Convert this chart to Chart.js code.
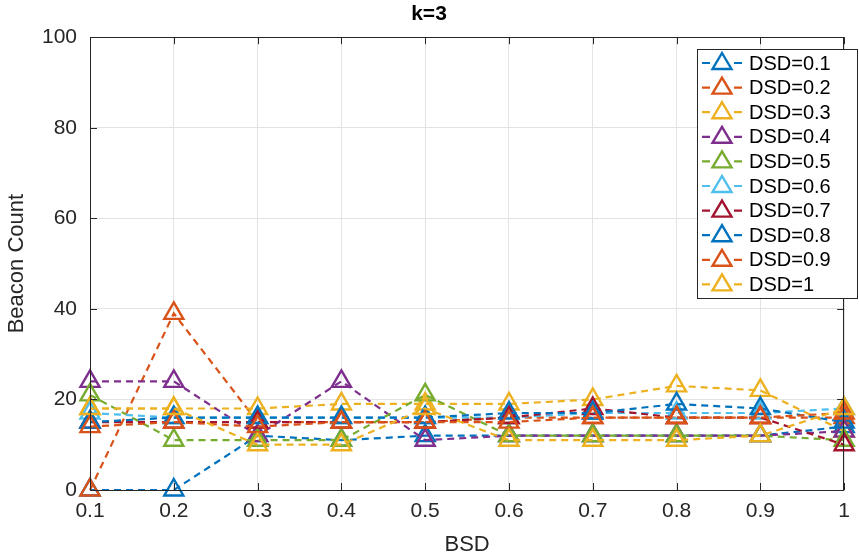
<!DOCTYPE html>
<html>
<head>
<meta charset="utf-8">
<script src="https://cdn.jsdelivr.net/npm/chart.js@4"></script>
<style>
  html, body { margin: 0; padding: 0; background: #fff; }
  #wrap { width: 859px; height: 558px; }
</style>
</head>
<body>
<div id="wrap"><canvas id="chart" width="859" height="558"></canvas></div>
<script>
// valores (k=3)
const bsd = [0.1, 0.2, 0.3, 0.4, 0.5, 0.6, 0.7, 0.8, 0.9, 1];
const dsdLabels = ['DSD=0.1', 'DSD=0.2', 'DSD=0.3', 'DSD=0.4', 'DSD=0.5',
                   'DSD=0.6', 'DSD=0.7', 'DSD=0.8', 'DSD=0.9', 'DSD=1'];
const dsd01 = [0, 0, 12, 11, 12, 12, 12, 12, 12, 14];
const dsd02 = [0, 39, 15, 15, 15, 16, 16, 16, 16, 16];
const dsd03 = [18, 18, 18, 19, 19, 19, 20, 23, 22, 13];
const dsd04 = [24, 24, 12, 24, 11, 12, 12, 12, 12, 13];
const dsd05 = [21, 11, 11, 11, 21, 12, 12, 12, 12, 11];
const dsd06 = [17, 16, 16, 16, 16, 16, 17, 17, 17, 18];
const dsd07 = [15, 15, 15, 15, 15, 16, 18, 16, 16, 10];
const dsd08 = [15, 16, 16, 16, 16, 17, 17, 19, 18, 15];
const dsd09 = [14, 15, 14, 15, 15, 15, 16, 16, 16, 17];
const dsd10 = [18, 18, 10, 10, 18, 11, 11, 11, 12, 18];
const seriesValues = [dsd01, dsd02, dsd03, dsd04, dsd05, dsd06, dsd07, dsd08, dsd09, dsd10];
const yTicks = [0, 20, 40, 60, 80, 100];

const cores = ['#0072BD', '#D95319', '#EDB120', '#7E2F8E', '#77AC30',
               '#4DBEEE', '#A2142F', '#0072BD', '#D95319', '#EDB120'];
const TXT = '#262626';
const FONT = "'Liberation Sans', Arial, sans-serif";

const datasets = seriesValues.map((vals, i) => ({
    label: dsdLabels[i],
    data: vals.map((v, j) => ({ x: bsd[j], y: v })),
    order: -i, // a última série fica por cima, como no MATLAB
    borderColor: cores[i],
    backgroundColor: 'rgba(0,0,0,0)',
    borderWidth: 2.2,
    borderDash: [7, 5],
    pointStyle: 'triangle',
    pointRadius: 11,
    pointBorderWidth: 2.4,
    pointBorderColor: cores[i],
    pointBackgroundColor: 'rgba(0,0,0,0)',
    tension: 0,
    clip: false
}));

// caixa do eixo + marcas de tick para dentro (estilo MATLAB)
const boxPlugin = {
    id: 'box',
    afterDatasetsDraw(chart) {
        const { ctx, chartArea: a, scales } = chart;
        ctx.save();
        ctx.strokeStyle = TXT;
        ctx.lineWidth = 1;
        ctx.beginPath();
        bsd.forEach(v => {
            const px = Math.round(scales.x.getPixelForValue(v)) + 0.5;
            ctx.moveTo(px, a.bottom); ctx.lineTo(px, a.bottom - 7);
            ctx.moveTo(px, a.top); ctx.lineTo(px, a.top + 7);
        });
        yTicks.forEach(v => {
            const py = Math.round(scales.y.getPixelForValue(v)) + 0.5;
            ctx.moveTo(a.left, py); ctx.lineTo(a.left + 7, py);
            ctx.moveTo(a.right, py); ctx.lineTo(a.right - 7, py);
        });
        ctx.stroke();
        ctx.strokeRect(Math.round(a.left) + 0.5, Math.round(a.top) + 0.5,
                       Math.round(a.right - a.left) - 1, Math.round(a.bottom - a.top));
        ctx.restore();
    }
};

// legenda tipo MATLAB: traço - triângulo - traço
const legendPlugin = {
    id: 'matlabLegend',
    afterDraw(chart) {
        const ctx = chart.ctx;
        const x0 = 697, y0 = 49, w = 160, h = 249;
        const rowH = 24.6;
        ctx.save();
        ctx.fillStyle = '#fff';
        ctx.fillRect(x0, y0, w, h);
        ctx.strokeStyle = TXT;
        ctx.lineWidth = 1;
        ctx.strokeRect(x0 + 0.5, y0 + 0.5, w, h);
        ctx.font = '20px ' + FONT;
        ctx.textBaseline = 'middle';
        chart.data.datasets.forEach((ds, i) => {
            const cy = y0 + 14 + i * rowH;
            ctx.strokeStyle = ds.borderColor;
            ctx.lineWidth = 2.2;
            ctx.beginPath();
            ctx.moveTo(702, cy); ctx.lineTo(710, cy);
            ctx.moveTo(734, cy); ctx.lineTo(742, cy);
            ctx.stroke();
            const r = 10, cx = 722;
            ctx.lineWidth = 2.4;
            ctx.beginPath();
            ctx.moveTo(cx, cy - r);
            ctx.lineTo(cx + r * 0.95, cy + r * 0.6);
            ctx.lineTo(cx - r * 0.95, cy + r * 0.6);
            ctx.closePath();
            ctx.stroke();
            ctx.fillStyle = '#000';
            ctx.fillText(ds.label, 749, cy + 1);
        });
        ctx.restore();
    }
};

new Chart(document.getElementById('chart'), {
    type: 'line',
    data: { datasets },
    options: {
        responsive: false,
        animation: false,
        devicePixelRatio: 1,
        layout: { padding: { left: 0, right: 1, top: 0, bottom: 0 } },
        plugins: {
            legend: { display: false },
            tooltip: { enabled: false },
            title: {
                display: true,
                text: 'k=3',
                color: '#000',
                font: { family: FONT, size: 21, weight: 'bold', lineHeight: 1.2 },
                padding: { top: 2, bottom: 10 }
            }
        },
        scales: {
            x: {
                type: 'linear',
                min: 0.1,
                max: 1,
                afterBuildTicks: s => { s.ticks = bsd.map(v => ({ value: v })); },
                afterFit: s => { s.height = 68; },
                ticks: {
                    color: TXT,
                    font: { family: FONT, size: 21 },
                    padding: 9,
                    maxRotation: 0,
                    callback: v => String(Math.round(v * 10) / 10)
                },
                grid: { color: '#e3e3e3', drawTicks: false },
                border: { display: false },
                title: {
                    display: true,
                    text: 'BSD',
                    color: TXT,
                    font: { family: FONT, size: 22 },
                    padding: { top: 0, bottom: 0 }
                }
            },
            y: {
                min: 0,
                max: 100,
                afterBuildTicks: s => { s.ticks = yTicks.map(v => ({ value: v })); },
                afterFit: s => { s.width = 90; },
                ticks: {
                    color: TXT,
                    font: { family: FONT, size: 21 },
                    padding: 13
                },
                grid: { color: '#e3e3e3', drawTicks: false },
                border: { display: false },
                title: {
                    display: true,
                    text: 'Beacon Count',
                    color: TXT,
                    font: { family: FONT, size: 22 },
                    padding: { top: 4, bottom: 0 }
                }
            }
        }
    },
    plugins: [boxPlugin, legendPlugin]
});
</script>
</body>
</html>
